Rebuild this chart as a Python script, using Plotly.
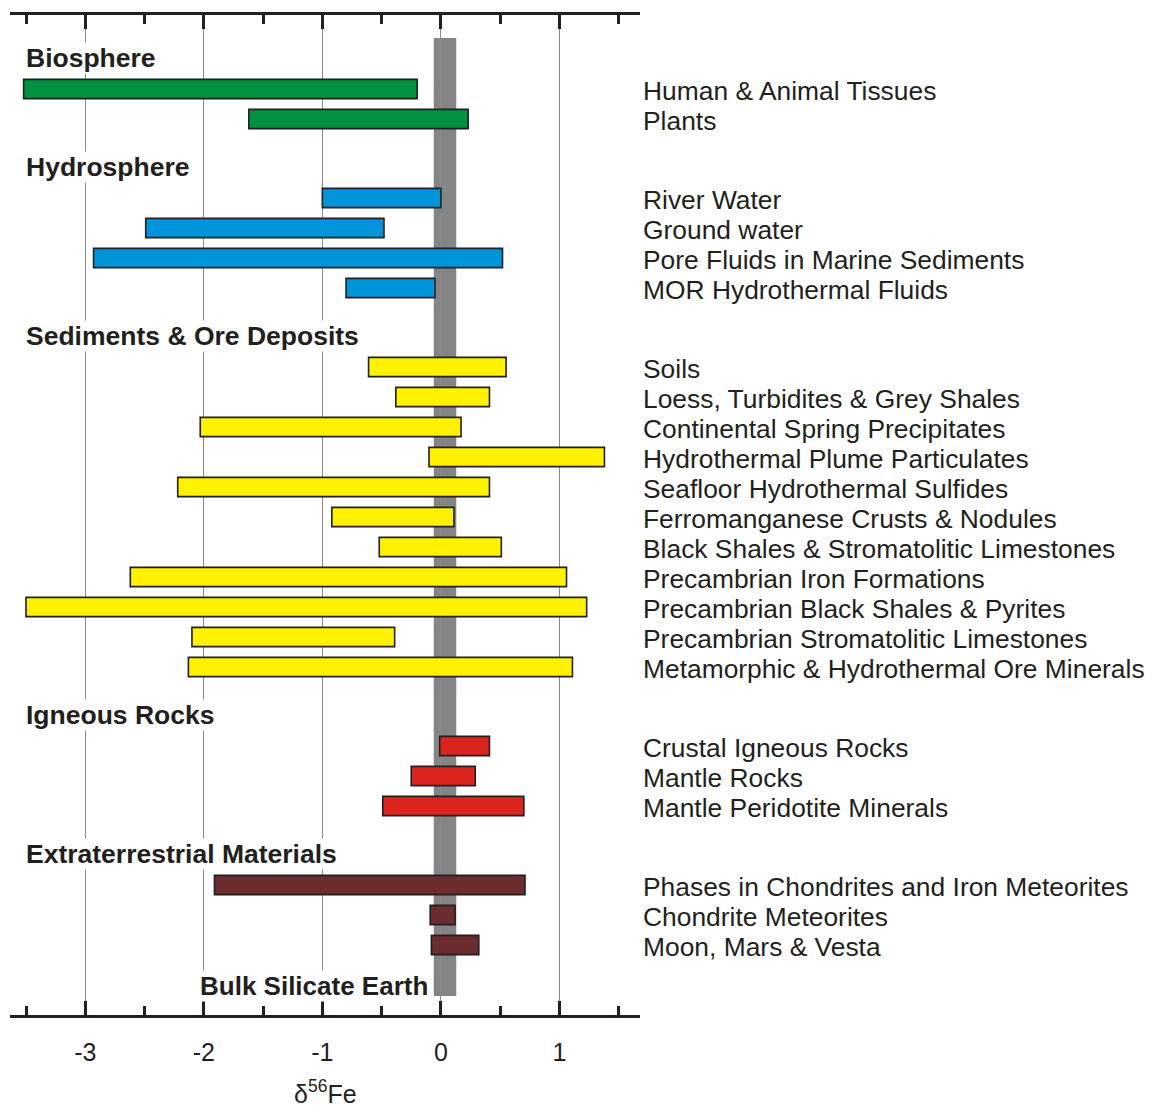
import plotly.graph_objects as go

# ---------------- data ----------------
group_names = ["Biosphere", "Hydrosphere", "Sediments & Ore Deposits",
               "Igneous Rocks", "Extraterrestrial Materials"]
group_colors = ["#00923f", "#0095da", "#fff200", "#dc241f", "#6b2d2f"]

bio_labels = ["Human & Animal Tissues", "Plants"]
bio_low = [-3.52, -1.62]
bio_high = [-0.20, 0.23]

hyd_labels = ["River Water", "Ground water", "Pore Fluids in Marine Sediments",
              "MOR Hydrothermal Fluids"]
hyd_low = [-1.00, -2.49, -2.93, -0.80]
hyd_high = [0.00, -0.48, 0.52, -0.05]

sed_labels = ["Soils", "Loess, Turbidites & Grey Shales",
              "Continental Spring Precipitates", "Hydrothermal Plume Particulates",
              "Seafloor Hydrothermal Sulfides", "Ferromanganese Crusts & Nodules",
              "Black Shales & Stromatolitic Limestones", "Precambrian Iron Formations",
              "Precambrian Black Shales & Pyrites", "Precambrian Stromatolitic Limestones",
              "Metamorphic & Hydrothermal Ore Minerals"]
sed_low = [-0.61, -0.38, -2.03, -0.10, -2.22, -0.92, -0.52, -2.62, -3.50, -2.10, -2.13]
sed_high = [0.55, 0.41, 0.17, 1.38, 0.41, 0.11, 0.51, 1.06, 1.23, -0.39, 1.11]

ign_labels = ["Crustal Igneous Rocks", "Mantle Rocks", "Mantle Peridotite Minerals"]
ign_low = [-0.01, -0.25, -0.49]
ign_high = [0.41, 0.29, 0.70]

ext_labels = ["Phases in Chondrites and Iron Meteorites", "Chondrite Meteorites",
              "Moon, Mars & Vesta"]
ext_low = [-1.91, -0.09, -0.08]
ext_high = [0.71, 0.12, 0.32]

bse_label = "Bulk Silicate Earth"
bse_low, bse_high = -0.06, 0.13

x_ticks = [-3, -2, -1, 0, 1]
x_title = "δ<sup>56</sup>Fe"

groups = [
    (bio_labels, bio_low, bio_high),
    (hyd_labels, hyd_low, hyd_high),
    (sed_labels, sed_low, sed_high),
    (ign_labels, ign_low, ign_high),
    (ext_labels, ext_low, ext_high),
]

# ---------------- layout of rows ----------------
SLOT = 1.0
GAP = 19 / 30
Y_TOTAL = 1000 / 30
pos = 44 / 30
header_pos = []
item_pos = []
for labels, lo, hi in groups:
    header_pos.append(pos)
    pos += SLOT
    ys = []
    for _ in labels:
        ys.append(pos)
        pos += SLOT
    item_pos.append(ys)
    pos += GAP
bse_y = item_pos[-1][-1] + 1.37

TXT = "#231f20"
FONT = "Liberation Sans, Arial, sans-serif"

fig = go.Figure()
for (labels, lo, hi), ys, col, name in zip(groups, item_pos, group_colors, group_names):
    fig.add_trace(go.Bar(
        orientation="h", y=ys, base=lo, x=[h - l for h, l in zip(hi, lo)],
        width=0.64, marker=dict(color=col, line=dict(color=TXT, width=1.6)),
        name=name, showlegend=False, hoverinfo="skip",
    ))

annotations = []
for (labels, lo, hi), ys in zip(groups, item_pos):
    for lab, y in zip(labels, ys):
        annotations.append(dict(
            text=lab, xref="paper", x=1.001, yref="y", y=y + 0.05,
            xanchor="left", yanchor="middle", showarrow=False,
            font=dict(size=26.4, color=TXT, family=FONT)))
for name, y in zip(group_names, header_pos):
    annotations.append(dict(
        text="<b>" + name + "</b>", xref="paper", x=0.024, yref="y", y=y - 0.03,
        xanchor="left", yanchor="middle", showarrow=False, bgcolor="white",
        borderpad=0, font=dict(size=26.5, color=TXT, family=FONT)))
annotations.append(dict(
    text="<b>" + bse_label + "</b>", xref="x", x=bse_low - 0.04, yref="y", y=bse_y,
    xanchor="right", yanchor="middle", showarrow=False, bgcolor="white",
    borderpad=0, font=dict(size=26, color=TXT, family=FONT)))
annotations.append(dict(
    text=x_title, xref="paper", x=0.5, yref="paper", y=-0.077,
    xanchor="center", yanchor="middle", showarrow=False,
    font=dict(size=25, color=TXT, family=FONT)))

fig.add_shape(type="rect", xref="x", yref="y", x0=bse_low, x1=bse_high,
              y0=23 / 30, y1=981 / 30, fillcolor="#858585",
              line=dict(width=0), layer="below")

fig.update_layout(
    width=1146, height=1098,
    margin=dict(l=2, r=514, t=7, b=91),
    paper_bgcolor="white", plot_bgcolor="white",
    barmode="overlay",
    annotations=annotations,
    xaxis=dict(range=[-3.635, 1.68], tickvals=x_ticks,
               ticktext=[str(v) for v in x_ticks],
               showgrid=True, gridcolor="#8a8a8a", gridwidth=1, zeroline=False,
               showline=True, linecolor=TXT, linewidth=2.5, mirror="ticks",
               ticks="inside", ticklen=14, tickwidth=2.5, tickcolor=TXT,
               ticklabelstandoff=13,
               tickfont=dict(size=25, color=TXT, family=FONT),
               minor=dict(dtick=0.5, tick0=0, ticks="inside", ticklen=9,
                          tickwidth=2.5, tickcolor=TXT, showgrid=False)),
    yaxis=dict(range=[Y_TOTAL, 0], visible=False, showgrid=False, zeroline=False),
)

fig.write_html("out.html")
